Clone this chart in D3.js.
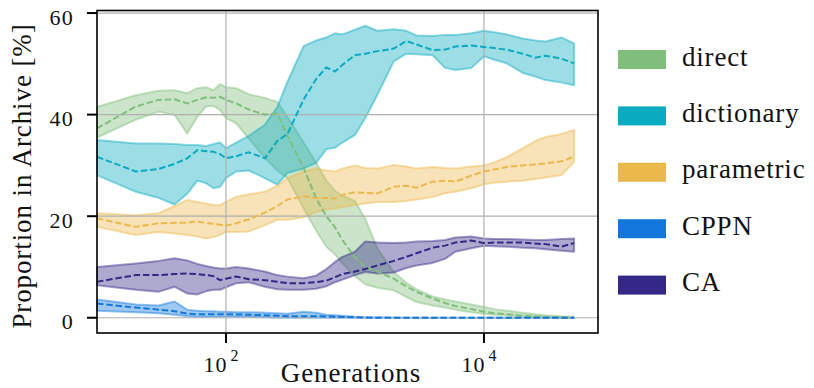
<!DOCTYPE html>
<html>
<head>
<meta charset="utf-8">
<script src="https://cdn.jsdelivr.net/npm/d3@7"></script>
<style>
  html, body { margin: 0; padding: 0; background: #fff; }
  svg text { font-family: "Liberation Serif", "DejaVu Serif", serif; fill: #111; }
</style>
</head>
<body>
<svg id="chart" width="814" height="388"></svg>
<script>
// generations sampled along the x axis
const gens = [10, 20, 30, 40, 50, 60, 70, 80, 90, 100, 120, 150, 200, 250, 300, 400, 500, 600, 700, 800,
  1000, 1200, 1500, 2000, 2500, 3000, 4000, 5000, 6000, 8000, 10000, 12000, 15000, 20000, 25000, 30000, 40000, 50000];

const seriesNames = ['direct', 'dictionary', 'parametric', 'CPPN', 'CA'];
const seriesColors = ['#7fbf7b', '#0aabc1', '#ebb84b', '#1177dd', '#332788'];

const directMean = [37.3, 41.6, 42.9, 43.0, 42.2, 42.9, 43.4, 43.3, 43.5, 42.9, 42.2, 41.0, 40.0, 40.2, 35.8, 29.5, 23.5, 20.0, 17.8, 15.3,
  11.9, 10.0, 9.1, 7.7, 6.2, 5.1, 3.8, 2.9, 2.3, 1.7, 1.2, 0.9, 0.7, 0.4, 0.25, 0.15, 0.05, 0];
const directLo = [35.5, 39.0, 40.6, 39.9, 36.3, 39.6, 41.6, 41.7, 40.9, 39.3, 38.3, 35.3, 31.5, 29.0, 27.5, 21.5, 17.2, 14.0, 12.5, 10.7,
  8.2, 6.6, 5.9, 5.4, 4.1, 3.1, 2.4, 2.0, 1.6, 1.1, 0.8, 0.6, 0.5, 0.3, 0.2, 0.1, 0.0, 0];
const directHi = [41.5, 43.8, 44.7, 44.8, 44.2, 45.2, 45.4, 44.8, 46.0, 45.4, 45.2, 44.0, 43.3, 42.5, 39.5, 34.5, 30.5, 27.0, 25.0, 24.0,
  23.0, 19.5, 13.5, 9.0, 6.9, 5.6, 4.2, 3.6, 3.2, 2.6, 2.1, 1.7, 1.4, 1.0, 0.7, 0.5, 0.3, 0.2];

const dictMean = [31.7, 28.8, 29.3, 30.3, 31.4, 33.0, 32.8, 32.7, 32.2, 31.4, 31.8, 32.6, 31.4, 34.8, 36.2, 43.0, 47.0, 49.3, 48.5, 49.8,
  51.7, 52.0, 52.5, 53.0, 54.5, 53.8, 52.7, 52.8, 53.4, 53.6, 53.3, 53.1, 52.8, 52.0, 51.2, 51.6, 51.0, 50.1];
const dictLo = [28.1, 24.8, 23.6, 22.3, 24.4, 27.0, 26.5, 25.5, 25.8, 27.5, 28.8, 29.0, 27.5, 26.2, 28.5, 29.4, 30.5, 33.2, 33.5, 34.5,
  36.0, 39.3, 44.0, 50.5, 52.0, 51.9, 51.7, 49.2, 48.8, 49.2, 51.5, 50.8, 50.1, 48.2, 47.5, 46.8, 46.3, 45.8];
const dictHi = [35.0, 34.3, 34.3, 34.2, 34.0, 34.0, 33.8, 34.2, 34.5, 33.4, 34.5, 35.8, 38.0, 41.5, 46.5, 53.5, 54.6, 55.2, 56.0, 55.8,
  56.7, 57.5, 56.5, 56.8, 56.5, 55.6, 55.5, 55.7, 55.7, 56.0, 56.5, 56.2, 55.8, 55.0, 54.6, 54.4, 55.2, 54.0];

const paramMean = [19.6, 17.9, 18.6, 18.7, 18.7, 19.0, 18.6, 18.5, 18.3, 18.1, 18.6, 19.4, 20.7, 22.0, 23.3, 23.9, 23.6, 23.6, 23.5, 24.2,
  24.7, 24.6, 24.5, 25.8, 26.0, 25.6, 26.8, 27.0, 26.8, 28.0, 28.8, 29.2, 29.7, 30.0, 30.2, 30.4, 30.8, 31.7];
const paramLo = [17.9, 16.3, 16.9, 16.6, 16.3, 16.0, 15.6, 15.9, 16.3, 16.9, 16.9, 17.0, 18.2, 19.3, 19.3, 19.8, 20.8, 21.3, 21.5, 21.8,
  22.2, 22.5, 22.8, 22.8, 23.0, 23.3, 23.8, 24.5, 24.8, 25.5, 26.3, 26.6, 26.8, 27.0, 27.3, 27.6, 28.1, 30.7];
const paramHi = [20.6, 20.2, 20.6, 22.0, 23.2, 22.8, 22.5, 22.2, 22.2, 22.8, 23.8, 24.3, 24.8, 26.0, 27.5, 28.8, 29.4, 29.0, 28.8, 29.4,
  30.0, 29.5, 29.4, 30.1, 29.8, 29.4, 29.7, 29.5, 29.4, 29.8, 30.0, 30.6, 31.6, 33.4, 34.8, 35.6, 36.2, 37.0];

const cppnMean = [2.8, 2.0, 1.6, 1.3, 0.8, 0.7, 0.7, 0.7, 0.7, 0.7, 0.65, 0.6, 0.5, 0.4, 0.3, 0.3, 0.3, 0.25, 0.2, 0.15,
  0.1, 0.05, 0, 0, 0, 0, 0, 0, 0, 0, 0, 0, 0, 0, 0, 0, 0, 0];
const cppnLo = [1.4, 1.1, 0.9, 0.6, 0.3, 0.2, 0.2, 0.2, 0.2, 0.2, 0.2, 0.2, 0.1, 0, 0, 0, 0, 0, 0, 0,
  0, 0, 0, 0, 0, 0, 0, 0, 0, 0, 0, 0, 0, 0, 0, 0, 0, 0];
const cppnHi = [3.6, 2.6, 2.4, 3.2, 1.6, 1.4, 1.3, 1.3, 1.2, 1.2, 1.1, 1.1, 1.0, 0.9, 0.8, 1.2, 1.0, 0.6, 0.5, 0.4,
  0.2, 0.1, 0.1, 0.05, 0, 0, 0, 0, 0, 0, 0, 0, 0, 0, 0, 0, 0, 0];

const caMean = [7.1, 8.4, 8.4, 8.6, 8.7, 8.6, 8.4, 8.2, 7.4, 7.7, 8.1, 7.6, 7.4, 7.1, 6.8, 6.8, 7.0, 7.3, 8.0, 8.6,
  9.1, 9.6, 10.3, 11.2, 12.0, 12.7, 13.8, 14.2, 14.8, 15.2, 14.7, 14.8, 14.8, 14.8, 14.6, 14.5, 14.0, 14.7];
const caLo = [6.4, 5.5, 5.1, 6.1, 4.8, 4.6, 5.2, 5.5, 5.5, 6.0, 6.8, 7.0, 6.1, 5.6, 5.5, 5.5, 5.7, 6.2, 7.0, 7.5,
  8.4, 9.0, 8.7, 8.9, 9.8, 10.3, 10.8, 11.6, 13.0, 13.7, 14.2, 14.1, 14.0, 13.8, 13.7, 13.5, 13.2, 13.0];
const caHi = [10.0, 10.7, 11.2, 11.7, 11.3, 10.6, 10.2, 9.9, 9.7, 9.7, 10.0, 9.7, 9.1, 8.4, 8.1, 7.8, 8.3, 9.6, 11.0, 12.0,
  13.0, 15.0, 14.8, 14.7, 14.8, 15.0, 15.1, 15.3, 15.8, 16.0, 15.6, 15.5, 15.5, 15.4, 15.3, 15.3, 15.5, 15.6];

const yTicks = [0, 20, 40, 60];
const xTicks = [100, 10000];

// build rows for each series
const means = [directMean, dictMean, paramMean, cppnMean, caMean];
const los = [directLo, dictLo, paramLo, cppnLo, caLo];
const his = [directHi, dictHi, paramHi, cppnHi, caHi];
const series = seriesNames.map((name, s) => ({
  name,
  color: seriesColors[s],
  rows: gens.map((g, i) => ({ g, mean: means[s][i], lo: los[s][i], hi: his[s][i] }))
}));

const margin = { top: 10.5, right: 216, bottom: 55, left: 97 };
const width = 814, height = 388;

const x = d3.scaleLog()
  .domain([10, 76600])
  .range([margin.left, width - margin.right]);

const y = d3.scaleLinear()
  .domain([-3, 60.5])
  .range([height - margin.bottom, margin.top]);

const svg = d3.select('#chart');

// bands
const band = d3.area()
  .x(d => x(d.g))
  .y0(d => y(d.lo))
  .y1(d => y(d.hi));

svg.append('g').selectAll('path')
  .data(series)
  .enter().append('path')
  .attr('d', d => band(d.rows))
  .attr('fill', d => d.color)
  .attr('fill-opacity', 0.4)
  .attr('stroke', d => d.color)
  .attr('stroke-opacity', 0.45)
  .attr('stroke-width', 2)
  .attr('stroke-linejoin', 'round');

// grid on top of the fills, under the mean lines
const grid = svg.append('g')
  .attr('stroke', '#b0b0b0')
  .attr('stroke-width', 1.2);
grid.selectAll('.gx')
  .data(xTicks)
  .enter().append('line')
  .attr('x1', d => x(d)).attr('x2', d => x(d))
  .attr('y1', margin.top).attr('y2', height - margin.bottom);
grid.selectAll('.gy')
  .data(yTicks)
  .enter().append('line')
  .attr('x1', margin.left).attr('x2', width - margin.right)
  .attr('y1', d => y(d)).attr('y2', d => y(d));

// mean lines
const meanLine = d3.line()
  .x(d => x(d.g))
  .y(d => y(d.mean));

svg.append('g').selectAll('path')
  .data(series)
  .enter().append('path')
  .attr('d', d => meanLine(d.rows))
  .attr('fill', 'none')
  .attr('stroke', d => d.color)
  .attr('stroke-width', 2)
  .attr('stroke-dasharray', '6.5,2.8');

// spines
svg.append('rect')
  .attr('x', margin.left)
  .attr('y', margin.top)
  .attr('width', width - margin.right - margin.left)
  .attr('height', height - margin.bottom - margin.top)
  .attr('fill', 'none')
  .attr('stroke', '#000')
  .attr('stroke-width', 1.6);

// y ticks
const yAxis = svg.append('g');
yAxis.selectAll('line')
  .data(yTicks)
  .enter().append('line')
  .attr('x1', margin.left - 10).attr('x2', margin.left)
  .attr('y1', d => y(d)).attr('y2', d => y(d))
  .attr('stroke', '#000').attr('stroke-width', 2);
yAxis.selectAll('text')
  .data(yTicks)
  .enter().append('text')
  .attr('x', 74)
  .attr('y', d => y(d) + 11.5)
  .attr('text-anchor', 'end')
  .style('font-size', '22px')
  .style('letter-spacing', '1.3px')
  .text(d => d);

// x ticks
const xAxis = svg.append('g');
xAxis.selectAll('line')
  .data(xTicks)
  .enter().append('line')
  .attr('x1', d => x(d)).attr('x2', d => x(d))
  .attr('y1', height - margin.bottom).attr('y2', height - margin.bottom + 10)
  .attr('stroke', '#000').attr('stroke-width', 2);
const xLabels = xAxis.selectAll('text')
  .data(xTicks)
  .enter().append('text')
  .attr('x', d => x(d) - 5)
  .attr('y', 372)
  .attr('text-anchor', 'middle')
  .style('font-size', '22px');
xLabels.append('tspan').text('10').style('letter-spacing', '1px');
xLabels.append('tspan')
  .attr('dx', 3)
  .attr('dy', -11)
  .style('font-size', '16px')
  .text(d => Math.round(Math.log10(d)));

// axis labels
svg.append('text')
  .attr('x', 351)
  .attr('y', 382)
  .attr('text-anchor', 'middle')
  .style('font-size', '27px')
  .style('letter-spacing', '0.9px')
  .text('Generations');

svg.append('text')
  .attr('transform', 'translate(31,176) rotate(-90)')
  .attr('text-anchor', 'middle')
  .style('font-size', '27px')
  .style('letter-spacing', '0.9px')
  .text('Proportion in Archive [%]');

// legend
const legend = svg.append('g').attr('transform', 'translate(618,59.5)');
const item = legend.selectAll('g')
  .data(series)
  .enter().append('g')
  .attr('transform', (d, i) => `translate(0,${i * 56.4})`);
item.append('rect')
  .attr('x', 0).attr('y', -9.5)
  .attr('width', 48).attr('height', 19)
  .attr('fill', d => d.color);
item.append('text')
  .attr('x', 64)
  .attr('y', 6)
  .style('font-size', '27px')
  .style('letter-spacing', '0.8px')
  .text(d => d.name);
</script>
</body>
</html>
